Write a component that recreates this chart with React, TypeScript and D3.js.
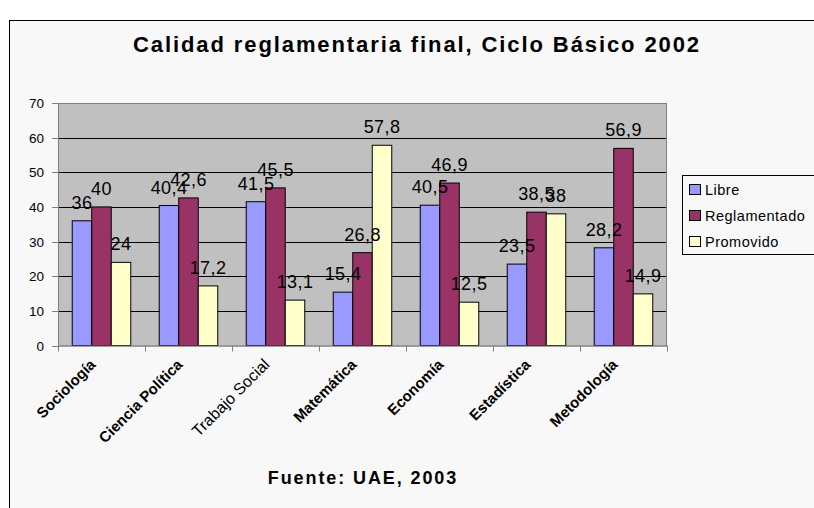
import React from "react";
import * as d3 from "d3";

const categories = ["Sociología", "Ciencia Política", "Trabajo Social", "Matemática", "Economía", "Estadística", "Metodología"];
const seriesNames = ["Libre", "Reglamentado", "Promovido"];
const libre = [36, 40.4, 41.5, 15.4, 40.5, 23.5, 28.2];
const reglamentado = [40, 42.6, 45.5, 26.8, 46.9, 38.5, 56.9];
const promovido = [24, 17.2, 13.1, 57.8, 12.5, 38, 14.9];
const yTicks = [0, 10, 20, 30, 40, 50, 60, 70];
const colors = ["#9999ff", "#993366", "#ffffcc"];
const boldLabels = [true, true, false, true, true, true, true];

const W = 814, H = 508;
const plot = { left: 58, right: 667, top: 103, bottom: 345.5 };
const font = "'Liberation Sans', Arial, sans-serif";

export default function App() {
  const series = [libre, reglamentado, promovido];
  const x0 = d3.scaleBand<string>().domain(categories).range([plot.left, plot.right]).paddingInner(0).paddingOuter(0);
  const x1 = d3.scaleBand<string>().domain(seriesNames).range([0, x0.bandwidth()]).paddingInner(0).paddingOuter(0.73);
  const y = d3.scaleLinear().domain([0, 70]).range([plot.bottom, plot.top]);
  const fmt = (v: number) => String(v).replace(".", ",");

  return (
    <svg width={W} height={H} style={{ position: "absolute", left: 0, top: 0, background: "#ffffff" }} xmlns="http://www.w3.org/2000/svg">
      <rect x={9.5} y={20.5} width={W + 20} height={H + 20} fill="#f8f8f8" stroke="#000" strokeWidth={1} />
      <text x={417} y={52} textAnchor="middle" fontFamily={font} fontWeight="bold" fontSize={22} letterSpacing={1.9} fill="#000">
        Calidad reglamentaria final, Ciclo Básico 2002
      </text>
      <rect x={plot.left} y={plot.top} width={plot.right - plot.left} height={plot.bottom - plot.top} fill="#c0c0c0" />
      {yTicks.slice(1, -1).map((t) => (
        <line key={t} x1={plot.left} x2={plot.right} y1={Math.round(y(t)) + 0.5} y2={Math.round(y(t)) + 0.5} stroke="#000" strokeWidth={1} />
      ))}
      <rect x={plot.left + 0.5} y={plot.top + 0.5} width={plot.right - plot.left - 1} height={plot.bottom - plot.top} fill="none" stroke="#808080" strokeWidth={1} />
      {categories.map((c, i) =>
        series.map((s, j) => {
          const bx = x0(c)! + x1(seriesNames[j])!;
          const by = y(s[i]);
          return (
            <rect key={c + j} x={bx} y={by} width={x1.bandwidth()} height={plot.bottom - by} fill={colors[j]} stroke="#000" strokeWidth={1} />
          );
        })
      )}
      {/* axes */}
      <line x1={plot.left + 0.5} x2={plot.left + 0.5} y1={plot.top} y2={plot.bottom} stroke="#808080" />
      <line x1={plot.left} x2={plot.right} y1={plot.bottom + 0.5} y2={plot.bottom + 0.5} stroke="#808080" />
      {yTicks.map((t) => (
        <g key={t}>
          <line x1={plot.left - 6} x2={plot.left} y1={Math.round(y(t)) + 0.5} y2={Math.round(y(t)) + 0.5} stroke="#808080" />
          <text x={plot.left - 14} y={y(t) + 5} textAnchor="end" fontFamily={font} fontSize={13.5} fill="#000">{t}</text>
        </g>
      ))}
      {d3.range(categories.length + 1).map((k) => {
        const tx = Math.round(plot.left + k * x0.step()) + 0.5;
        return <line key={k} x1={tx} x2={tx} y1={plot.bottom} y2={plot.bottom + 6} stroke="#808080" />;
      })}
      {/* data labels */}
      {categories.map((c, i) =>
        series.map((s, j) => {
          const cx = x0(c)! + x1(seriesNames[j])! + x1.bandwidth() / 2;
          return (
            <text key={"l" + c + j} x={cx} y={y(s[i]) - 12} textAnchor="middle" fontFamily={font} fontSize={18} letterSpacing={0.4} fill="#000">
              {fmt(s[i])}
            </text>
          );
        })
      )}
      {/* category labels */}
      {categories.map((c, i) => {
        const cx = x0(c)! + x0.bandwidth() / 2;
        return (
          <text key={"c" + c} transform={`translate(${cx - 5},${plot.bottom + 20}) rotate(-45)`} textAnchor="end" fontFamily={font} fontWeight={boldLabels[i] ? "bold" : "normal"} fontSize={boldLabels[i] ? 15 : 16} fill="#000">
            {c}
          </text>
        );
      })}
      {/* legend */}
      <rect x={682.5} y={175.5} width={140} height={79} fill="#f8f8f8" stroke="#000" strokeWidth={1} />
      {seriesNames.map((n, j) => (
        <g key={n}>
          <rect x={689.5} y={184.5 + j * 26} width={11} height={10} fill={colors[j]} stroke="#000" />
          <text x={705} y={194.5 + j * 26} fontFamily={font} fontSize={14.5} letterSpacing={0.5} fill="#000">{n}</text>
        </g>
      ))}
      <text x={363} y={484} textAnchor="middle" fontFamily={font} fontWeight="bold" fontSize={18} letterSpacing={1.9} fill="#000">
        Fuente: UAE, 2003
      </text>
    </svg>
  );
}
